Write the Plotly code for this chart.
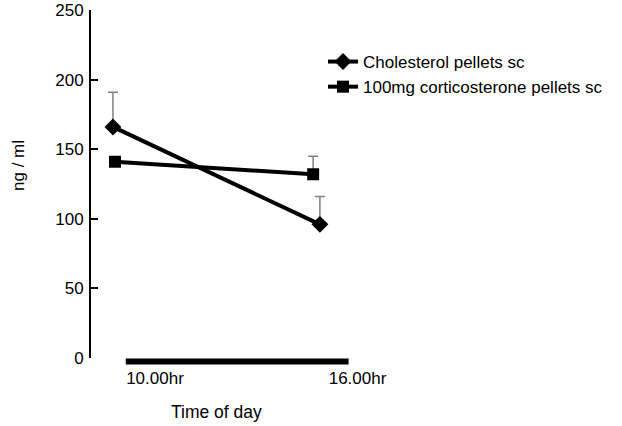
import plotly.graph_objects as go

# ---- data ----
hours_chol = [9.97, 16.1]
values_chol = [166, 96]
err_chol = [25, 20]

hours_cort = [10.03, 15.9]
values_cort = [141, 132]
err_cort = [0, 13]

tick_hours = [10, 16]
tick_labels = ["10.00hr", "16.00hr"]
light_phase = [10.35, 16.95]

y_ticks = [0, 50, 100, 150, 200, 250]

FONT = "Liberation Sans, Arial, sans-serif"
W, H = 622, 426
L, T = 91, 10
PW, PH = 289, 348  # plot area size in px

fig = go.Figure()
fig.add_trace(go.Scatter(
    x=hours_chol, y=values_chol, mode="lines+markers",
    name="Cholesterol pellets sc", legendgroup="a",
    line=dict(color="black", width=4),
    marker=dict(symbol="diamond", size=13, color="black"),
    error_y=dict(type="data", array=err_chol, arrayminus=[0, 0], symmetric=False,
                 color="#808080", thickness=1.5, width=5),
    cliponaxis=False,
))
fig.add_trace(go.Scatter(
    x=hours_cort, y=values_cort, mode="lines+markers",
    name="100mg corticosterone pellets sc", legendgroup="b",
    line=dict(color="black", width=4),
    marker=dict(symbol="square", size=12, color="black"),
    error_y=dict(type="data", array=err_cort, arrayminus=[0, 0], symmetric=False,
                 color="#808080", thickness=1.5, width=5),
    cliponaxis=False,
))

fig.add_shape(type="rect", xref="x", yref="paper",
              x0=light_phase[0], x1=light_phase[1], y0=-6.5 / PH, y1=-0.5 / PH,
              fillcolor="black", line=dict(width=0), layer="above")

fig.add_annotation(text="ng / ml", textangle=-90, xref="paper", yref="paper",
                   x=-73 / PW, y=192 / PH, xanchor="center", yanchor="middle",
                   showarrow=False,
                   font=dict(size=17, color="black", family=FONT))
fig.add_annotation(text="Time of day", xref="paper", yref="paper",
                   x=125 / PW, y=-54 / PH, xanchor="center", yanchor="middle",
                   showarrow=False,
                   font=dict(size=17.5, color="black", family=FONT))

fig.update_layout(
    width=W, height=H,
    margin=dict(l=L, r=W - L - PW, t=T, b=H - T - PH, autoexpand=False),
    plot_bgcolor="white", paper_bgcolor="white",
    font=dict(family=FONT, size=17, color="black"),
    showlegend=True,
    legend=dict(xref="container", yref="container", x=323 / W, y=1 - 44 / H,
                xanchor="left", yanchor="top", bgcolor="rgba(0,0,0,0)",
                font=dict(size=17, family=FONT), tracegroupgap=0,
                itemwidth=30),
    xaxis=dict(range=[9.32, 17.88], showline=False, showgrid=False, zeroline=False,
               tickvals=tick_hours, ticktext=tick_labels, ticks="",
               ticklabelshift=41, ticklabelstandoff=8, automargin=False,
               ticklabeloverflow="allow",
               tickfont=dict(size=17, family=FONT)),
    yaxis=dict(range=[0, 250], showline=True, linecolor="black", linewidth=2,
               showgrid=False, zeroline=False, tickvals=y_ticks,
               ticks="inside", ticklen=7, tickwidth=2, tickcolor="black",
               ticklabelstandoff=2, automargin=False, ticklabeloverflow="allow",
               tickfont=dict(size=17, family=FONT)),
)

fig.write_html("out.html",
               config={"displayModeBar": False},
               post_script="document.body.style.margin='0';document.body.style.overflow='hidden';")
